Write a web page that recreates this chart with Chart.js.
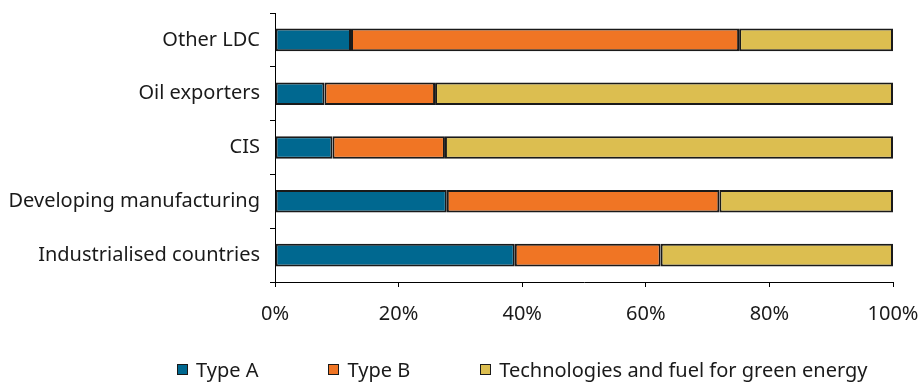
<!DOCTYPE html>
<html>
<head>
<meta charset="utf-8">
<script src="https://cdn.jsdelivr.net/npm/chart.js@4/dist/chart.umd.min.js"></script>
<style>
  html, body { margin: 0; padding: 0; background: #fff; }
  #wrap { position: relative; width: 924px; height: 382px; }
  #legend {
    position: absolute; left: 177px; top: 356px;
    display: flex; gap: 70px;
    font: 20px "Noto Sans", sans-serif; color: #1a1a1a;
  }
  #legend .item { display: flex; align-items: center; white-space: nowrap; }
  #legend .swatch { width: 9px; height: 9px; border: 1.5px solid #1a1a1a; margin-right: 8px; }
</style>
</head>
<body>
<div id="wrap">
  <canvas id="shareChart" width="924" height="382"></canvas>
  <div id="legend"></div>
</div>
<script>
// Country groups, top to bottom
const categories = ['Other LDC', 'Oil exporters', 'CIS', 'Developing manufacturing', 'Industrialised countries'];

// Shares in percent
const typeA = [12.3, 8.0, 9.3, 27.8, 38.8];
const typeB = [62.8, 17.9, 18.2, 44.1, 23.6];
const greenEnergy = [24.9, 74.1, 72.5, 28.1, 37.6];

const seriesNames = ['Type A', 'Type B', 'Technologies and fuel for green energy'];
const seriesColors = ['#006890', '#f07524', '#dcbe50'];
const xTicks = [0, 20, 40, 60, 80, 100];

const fontFamily = '"Noto Sans", sans-serif';
const textColor = '#1a1a1a';

const datasets = [typeA, typeB, greenEnergy].map((values, i) => ({
    label: seriesNames[i],
    data: values,
    backgroundColor: seriesColors[i],
    borderColor: '#1a1a1a',
    borderWidth: 2,
    borderSkipped: false,
    barPercentage: 0.42,
    categoryPercentage: 1
}));

new Chart(document.getElementById('shareChart'), {
    type: 'bar',
    data: { labels: categories, datasets: datasets },
    options: {
        indexAxis: 'y',
        responsive: false,
        animation: false,
        layout: { padding: { top: 13, right: 31, bottom: 50, left: 10 } },
        scales: {
            x: {
                stacked: true,
                min: 0,
                max: 100,
                afterBuildTicks: (scale) => { scale.ticks = xTicks.map(v => ({ value: v })); },
                // fixed axis height, no extra edge padding for the end labels
                afterFit: (scale) => {
                    scale.height = 50;
                    scale.paddingLeft = 0;
                    scale.paddingRight = 0;
                },
                grid: { drawOnChartArea: false, tickLength: 5, color: '#000' },
                border: { color: '#000', width: 1 },
                ticks: {
                    padding: 15,
                    color: textColor,
                    font: { family: fontFamily, size: 20 },
                    callback: (v) => v + '%'
                }
            },
            y: {
                stacked: true,
                afterFit: (scale) => {
                    scale.width = 265;
                    scale.paddingTop = 0;
                    scale.paddingBottom = 0;
                },
                grid: { drawOnChartArea: false, tickLength: 5, color: '#000', offset: true },
                border: { color: '#000', width: 1 },
                ticks: {
                    padding: 10,
                    color: textColor,
                    font: { family: fontFamily, size: 20 }
                }
            }
        },
        plugins: {
            legend: { display: false },
            tooltip: { enabled: false }
        }
    }
});

// Legend row under the axis
const legendEl = document.getElementById('legend');
seriesNames.forEach((name, i) => {
    const item = document.createElement('div');
    item.className = 'item';
    const swatch = document.createElement('span');
    swatch.className = 'swatch';
    swatch.style.background = seriesColors[i];
    item.appendChild(swatch);
    item.appendChild(document.createTextNode(name));
    legendEl.appendChild(item);
});
</script>
</body>
</html>
